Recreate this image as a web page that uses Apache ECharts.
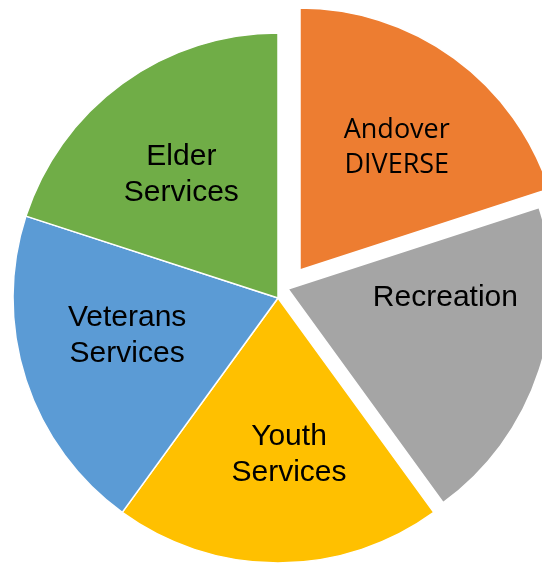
<!DOCTYPE html>
<html>
<head>
<meta charset="utf-8">
<script src="https://cdn.jsdelivr.net/npm/echarts@6/dist/echarts.min.js"></script>
<style>
  html, body { margin: 0; padding: 0; background: #ffffff; }
  #chart { width: 542px; height: 565px; }
</style>
</head>
<body>
<div id="chart"></div>
<script>
// ---- data ----
const categories = ['Andover DIVERSE', 'Recreation', 'Youth Services', 'Veterans Services', 'Elder Services'];
const values = [1, 1, 1, 1, 1];
const labelTexts = ['Andover\nDIVERSE', 'Recreation', 'Youth\nServices', 'Veterans\nServices', 'Elder\nServices'];

// ---- style / layout ----
const colors = ['#ED7D31', '#A5A5A5', '#FFC000', '#5B9BD5', '#70AD47'];
// each group of slices drawn with its own centre (exploded slices)
const groups = [
  { members: ['Youth Services', 'Veterans Services', 'Elder Services'], center: [278, 298], radius: 265 },
  { members: ['Andover DIVERSE'], center: [300, 270], radius: 262 },
  { members: ['Recreation'], center: [288, 289], radius: 264 }
];
const labelNudge = {
  'Andover DIVERSE': [18, -14],
  'Recreation': [29, -33],
  'Youth Services': [11, 21],
  'Veterans Services': [-22, -4],
  'Elder Services': [-17, -14]
};
const labelFont = {
  'Andover DIVERSE': { fontFamily: 'Open Sans', fontSize: 27, lineHeight: 35 },
  default: { fontFamily: 'Liberation Sans', fontSize: 30, lineHeight: 36 }
};

const chart = echarts.init(document.getElementById('chart'), null, { renderer: 'canvas' });

const series = groups.map(function (g) {
  return {
    type: 'pie',
    center: g.center,
    radius: [0, g.radius],
    startAngle: 90,
    clockwise: true,
    avoidLabelOverlap: false,
    emphasis: { disabled: true },
    labelLine: { show: false },
    label: {
      show: true,
      position: 'inside',
      color: '#000000',
      fontFamily: 'Liberation Sans',
      formatter: function (p) { return labelTexts[categories.indexOf(p.name)]; }
    },
    labelLayout: function (params) {
      const name = categories[params.dataIndex];
      const n = labelNudge[name] || [0, 0];
      return { dx: n[0], dy: n[1] };
    },
    data: categories.map(function (name, i) {
      const visible = g.members.indexOf(name) >= 0;
      const f = labelFont[name] || labelFont.default;
      return {
        name: name,
        value: values[i],
        itemStyle: visible
          ? { color: colors[i], borderColor: '#ffffff', borderWidth: 1.5 }
          : { color: 'rgba(0,0,0,0)', borderWidth: 0 },
        label: visible
          ? { show: true, color: '#000000', fontFamily: f.fontFamily, fontSize: f.fontSize, lineHeight: f.lineHeight }
          : { show: false }
      };
    })
  };
});

chart.setOption({
  backgroundColor: '#ffffff',
  animation: false,
  tooltip: { show: false },
  legend: { show: false },
  series: series
});
</script>
</body>
</html>
